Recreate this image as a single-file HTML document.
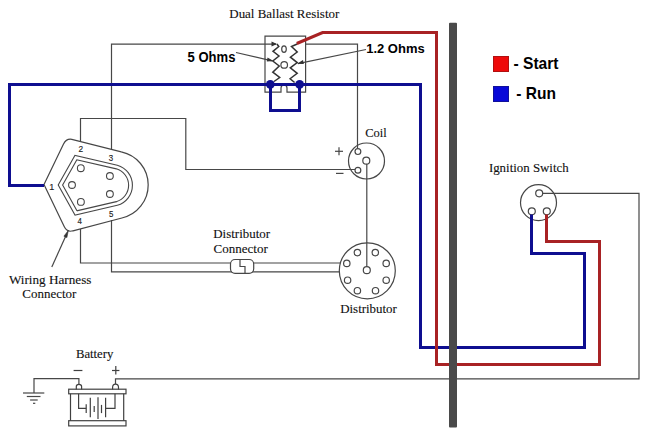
<!DOCTYPE html>
<html><head><meta charset="utf-8">
<style>
html,body{margin:0;padding:0;background:#fff;width:660px;height:444px;overflow:hidden}
svg{display:block}
.t{font-family:"Liberation Serif",serif;font-size:13.2px;fill:#111;stroke:#111;stroke-width:0.12}
.b{font-family:"Liberation Sans",sans-serif;font-weight:bold;fill:#000}
.n{font-family:"Liberation Sans",sans-serif;font-size:9px;fill:#222;stroke:#222;stroke-width:0.15}
</style></head>
<body>
<svg width="660" height="444" viewBox="0 0 660 444">
<rect width="660" height="444" fill="#fff"/>
<g fill="none" stroke="#474747" stroke-width="1.2">
  <!-- L1: pin3 up to y44, right to 357, down to coil + -->
  <polyline points="111.5,149 111.5,44.2 276,44.2"/>
  <polyline points="305,44.2 357.5,44.2 357.5,148.5"/>
  <!-- L2: pin2 -->
  <polyline points="80.5,141.5 80.5,118.5 185.8,118.5 185.8,169.5 355,169.5"/>
  <!-- L3/L4 to distributor -->
  <polyline points="80.5,229 80.5,263 340,263"/>
  <polyline points="111.5,220 111.5,271.8 340,271.8"/>
  <!-- coil to distributor -->
  <line x1="366.8" y1="164" x2="366.8" y2="266.7"/>
  <!-- battery + to switch -->
  <polyline points="115.5,384 115.5,378.8 639,378.8 639,193.3 542.5,193.3"/>
  <!-- ground -->
  <polyline points="78.9,384.4 78.9,378.6 34,378.6 34,393"/>
  <line x1="23" y1="393" x2="44.3" y2="393"/>
  <line x1="26.8" y1="396.5" x2="40.5" y2="396.5"/>
  <line x1="30.1" y1="400" x2="37.7" y2="400"/>
  <line x1="33" y1="403.3" x2="35.3" y2="403.3"/>
</g>

<!-- connector -->
<g fill="none" stroke="#474747">
  <path stroke-width="1.2" d="M44,184.5 L63.4,144.2 Q66.2,138.4 71.8,139.3 L121.3,151.8 A33.9,33.9 0 0 1 121.9,218 L73,230.8 Q67.2,232.7 64.2,226.5 Z"/>
  <path stroke-width="4.9" d="M60.4,185 L75.9,157.6 L116.8,167 A19,19 0 0 1 116.8,203.5 L76,213 Z"/>
  <path stroke="#fff" stroke-width="2.7" d="M60.4,185 L75.9,157.6 L116.8,167 A19,19 0 0 1 116.8,203.5 L76,213 Z"/>
  <g stroke-width="1.1">
    <circle cx="80.8" cy="168.2" r="3.4"/>
    <circle cx="109.9" cy="176" r="3.4"/>
    <circle cx="72" cy="185" r="3.4"/>
    <circle cx="109.9" cy="194" r="3.4"/>
    <circle cx="80.9" cy="201.9" r="3.4"/>
  </g>
  <!-- wiring harness arrow -->
  <line stroke-width="1.2" x1="51.8" y1="267" x2="66" y2="235.5"/>
</g>
<path d="M68.3,230.5 L66.9,237.6 L63.9,236.2 Z" fill="#333" stroke="#333" stroke-width="0.6"/>
<text class="n" x="80.8" y="152.4" text-anchor="middle" textLength="4.6" lengthAdjust="spacingAndGlyphs">2</text>
<text class="n" x="111" y="160.6" text-anchor="middle" textLength="4.4" lengthAdjust="spacingAndGlyphs">3</text>
<text class="n" x="51.8" y="189.8" text-anchor="middle">1</text>
<text class="n" x="111.2" y="216.6" text-anchor="middle" textLength="4.4" lengthAdjust="spacingAndGlyphs">5</text>
<text class="n" x="79.8" y="224.2" text-anchor="middle" textLength="4.4" lengthAdjust="spacingAndGlyphs">4</text>

<!-- ballast resistor -->
<g fill="none" stroke="#474747" stroke-width="1.2">
  <path d="M265,92.2 L265,36.2 L305.6,36.2 L305.6,92.2 L287,92.2 L287,88 Q287,85.2 284,85.2 Q281,85.2 281,88 L281,92.2 Z"/>
  <polyline stroke="#333" stroke-width="1.5" points="276.9,44 278.8,46.5 273,51.3 279,56 272.8,61 279.2,66 272.8,72.2 279.7,77.5 274,81.5"/>
  <polyline stroke="#333" stroke-width="1.5" points="297.2,44 291.5,46.5 297.2,52 290.4,57.2 297.2,62.6 290.3,67.8 297.2,73.3 290.1,78.7 294.6,82.5"/>
  <ellipse cx="284" cy="49.1" rx="2.3" ry="3.3"/>
  <circle cx="284.2" cy="64.9" r="3.3"/>
  <line x1="236" y1="52.5" x2="272" y2="60.8"/>
  <line x1="366" y1="49.5" x2="298" y2="63.6"/>
</g>
<path d="M277,44 L271.5,41.5 L271.5,46.5 Z" fill="#333"/>
<path d="M273.5,61 L267.5,57.5 L266.8,61.5 Z" fill="#333"/>
<path d="M297,63.8 L303,60 L303.8,64 Z" fill="#333"/>

<!-- coil -->
<g fill="none" stroke="#474747" stroke-width="1.2">
  <circle cx="366.5" cy="161" r="18"/>
  <circle cx="357.9" cy="151.6" r="2.9"/>
  <circle cx="366.3" cy="160.7" r="3.5"/>
  <circle cx="357.9" cy="170.2" r="2.9"/>
  <line x1="335" y1="151.3" x2="343" y2="151.3"/>
  <line x1="339" y1="147.3" x2="339" y2="155.3"/>
  <line x1="336" y1="173.4" x2="343.5" y2="173.4"/>
</g>

<!-- distributor -->
<g fill="none" stroke="#474747" stroke-width="1.2">
  <circle cx="367.3" cy="270.8" r="28"/>
  <circle cx="366.8" cy="270.2" r="3.5"/>
  <circle cx="357.4" cy="252.6" r="3.2"/>
  <circle cx="375.3" cy="252.6" r="3.2"/>
  <circle cx="346.8" cy="263.4" r="3.2"/>
  <circle cx="386.2" cy="263.4" r="3.2"/>
  <circle cx="347.6" cy="280.2" r="3.2"/>
  <circle cx="386.2" cy="280.2" r="3.2"/>
  <circle cx="357.4" cy="290.7" r="3.2"/>
  <circle cx="375.5" cy="290.7" r="3.2"/>
  <!-- distributor connector -->
  <rect x="230.5" y="259.5" width="23.2" height="13.8" rx="4.5" fill="#fff"/>
  <polyline points="240,259.5 240,266.5 245,266.5 245,273.3"/>
</g>

<!-- ignition switch -->
<g fill="none" stroke="#474747" stroke-width="1.2">
  <circle cx="538.5" cy="202.7" r="18"/>
  <circle cx="539.2" cy="193.3" r="3.5"/>
  <circle cx="531.8" cy="211.3" r="3.5"/>
  <circle cx="546.8" cy="211.3" r="3.5"/>
</g>

<!-- battery -->
<g fill="none" stroke="#404040" stroke-width="1.2">
  <path d="M76.3,389.5 V386.5 Q76.3,384.4 78.9,384.4 Q81.6,384.4 81.6,386.5 V389.5"/>
  <path d="M112.6,389.5 V387.5 Q112.6,384.2 115.5,384.2 Q118.5,384.2 118.5,387.5 V389.5"/>
  <rect x="68.7" y="389.2" width="57.3" height="4.6"/>
  <rect x="68.7" y="420.7" width="57.3" height="5.2"/>
  <line x1="70.5" y1="393.8" x2="70.5" y2="420.7"/>
  <line x1="123.7" y1="393.8" x2="123.7" y2="420.7"/>
  <polyline points="78.6,393.8 78.6,408.4 86.2,408.4"/>
  <polyline points="115,393.8 115,408.4 105.6,408.4"/>
  <line x1="86.2" y1="404.3" x2="86.2" y2="413.1"/>
  <line x1="90.3" y1="397.8" x2="90.3" y2="417.2"/>
  <line x1="94.2" y1="406" x2="94.2" y2="412"/>
  <line x1="98" y1="397.3" x2="98" y2="419"/>
  <line x1="101.5" y1="404.9" x2="101.5" y2="413.1"/>
  <line x1="105.6" y1="397.8" x2="105.6" y2="417.2"/>
  <line x1="73.6" y1="370.5" x2="82.4" y2="370.5"/>
  <line x1="112" y1="370.5" x2="119.4" y2="370.5"/>
  <line x1="115.8" y1="366" x2="115.8" y2="374.5"/>
</g>

<!-- blue run wire -->
<g fill="none" stroke="#0e0e90" stroke-width="3" stroke-linejoin="miter">
  <polyline points="44,185.5 9.5,185.5 9.5,84.5 420.5,84.5 420.5,347.5 584.5,347.5 584.5,253.5 531.5,253.5 531.5,214.5"/>
  <polyline points="270.5,84.5 270.5,110.5 299.5,110.5 299.5,84.5"/>
</g>
<circle cx="270.3" cy="84.3" r="4.4" fill="#0e0e90"/>
<circle cx="299.6" cy="84.3" r="4.4" fill="#0e0e90"/>

<!-- red start wire -->
<g fill="none" stroke="#a82224" stroke-width="3" stroke-linejoin="miter">
  <polyline points="296.8,43.5 322.6,32.5 436.5,32.5 436.5,364.5 599.5,364.5 599.5,241.5 546.5,241.5 546.5,214.5"/>
</g>

<!-- firewall bar -->
<rect x="449" y="22.8" width="8" height="404.8" rx="1" fill="#4a4a4a"/>

<!-- legend -->
<rect x="493.5" y="56.5" width="15" height="15" fill="#ee0a0a" stroke="#b01010" stroke-width="1"/>
<rect x="493.5" y="86.5" width="15" height="15" fill="#0808d8" stroke="#10109a" stroke-width="1"/>
<text class="b" x="513.5" y="68.6" font-size="16.4" textLength="45" lengthAdjust="spacingAndGlyphs">- Start</text>
<text class="b" x="516.3" y="98.9" font-size="16.4" textLength="39.7" lengthAdjust="spacingAndGlyphs">- Run</text>

<!-- labels -->
<text class="b" x="187.6" y="61.6" font-size="13.9" textLength="47.8" lengthAdjust="spacingAndGlyphs">5 Ohms</text>
<text class="b" x="366.2" y="52.6" font-size="13.5" textLength="58.5" lengthAdjust="spacingAndGlyphs">1.2 Ohms</text>
<text class="t" x="229.3" y="17.7" textLength="110" lengthAdjust="spacingAndGlyphs">Dual Ballast Resistor</text>
<text class="t" x="365.3" y="136.6" textLength="21.5" lengthAdjust="spacingAndGlyphs">Coil</text>
<text class="t" x="488.9" y="171.8" textLength="79.8" lengthAdjust="spacingAndGlyphs">Ignition Switch</text>
<text class="t" x="213.3" y="237.5" textLength="56.7" lengthAdjust="spacingAndGlyphs">Distributor</text>
<text class="t" x="213.6" y="252.5" textLength="54.2" lengthAdjust="spacingAndGlyphs">Connector</text>
<text class="t" x="340.2" y="313.4" textLength="56.7" lengthAdjust="spacingAndGlyphs">Distributor</text>
<text class="t" x="8.9" y="284" textLength="82.5" lengthAdjust="spacingAndGlyphs">Wiring Harness</text>
<text class="t" x="22.3" y="298" textLength="54" lengthAdjust="spacingAndGlyphs">Connector</text>
<text class="t" x="75.9" y="357.9" textLength="37.5" lengthAdjust="spacingAndGlyphs">Battery</text>
</svg>
</body></html>
